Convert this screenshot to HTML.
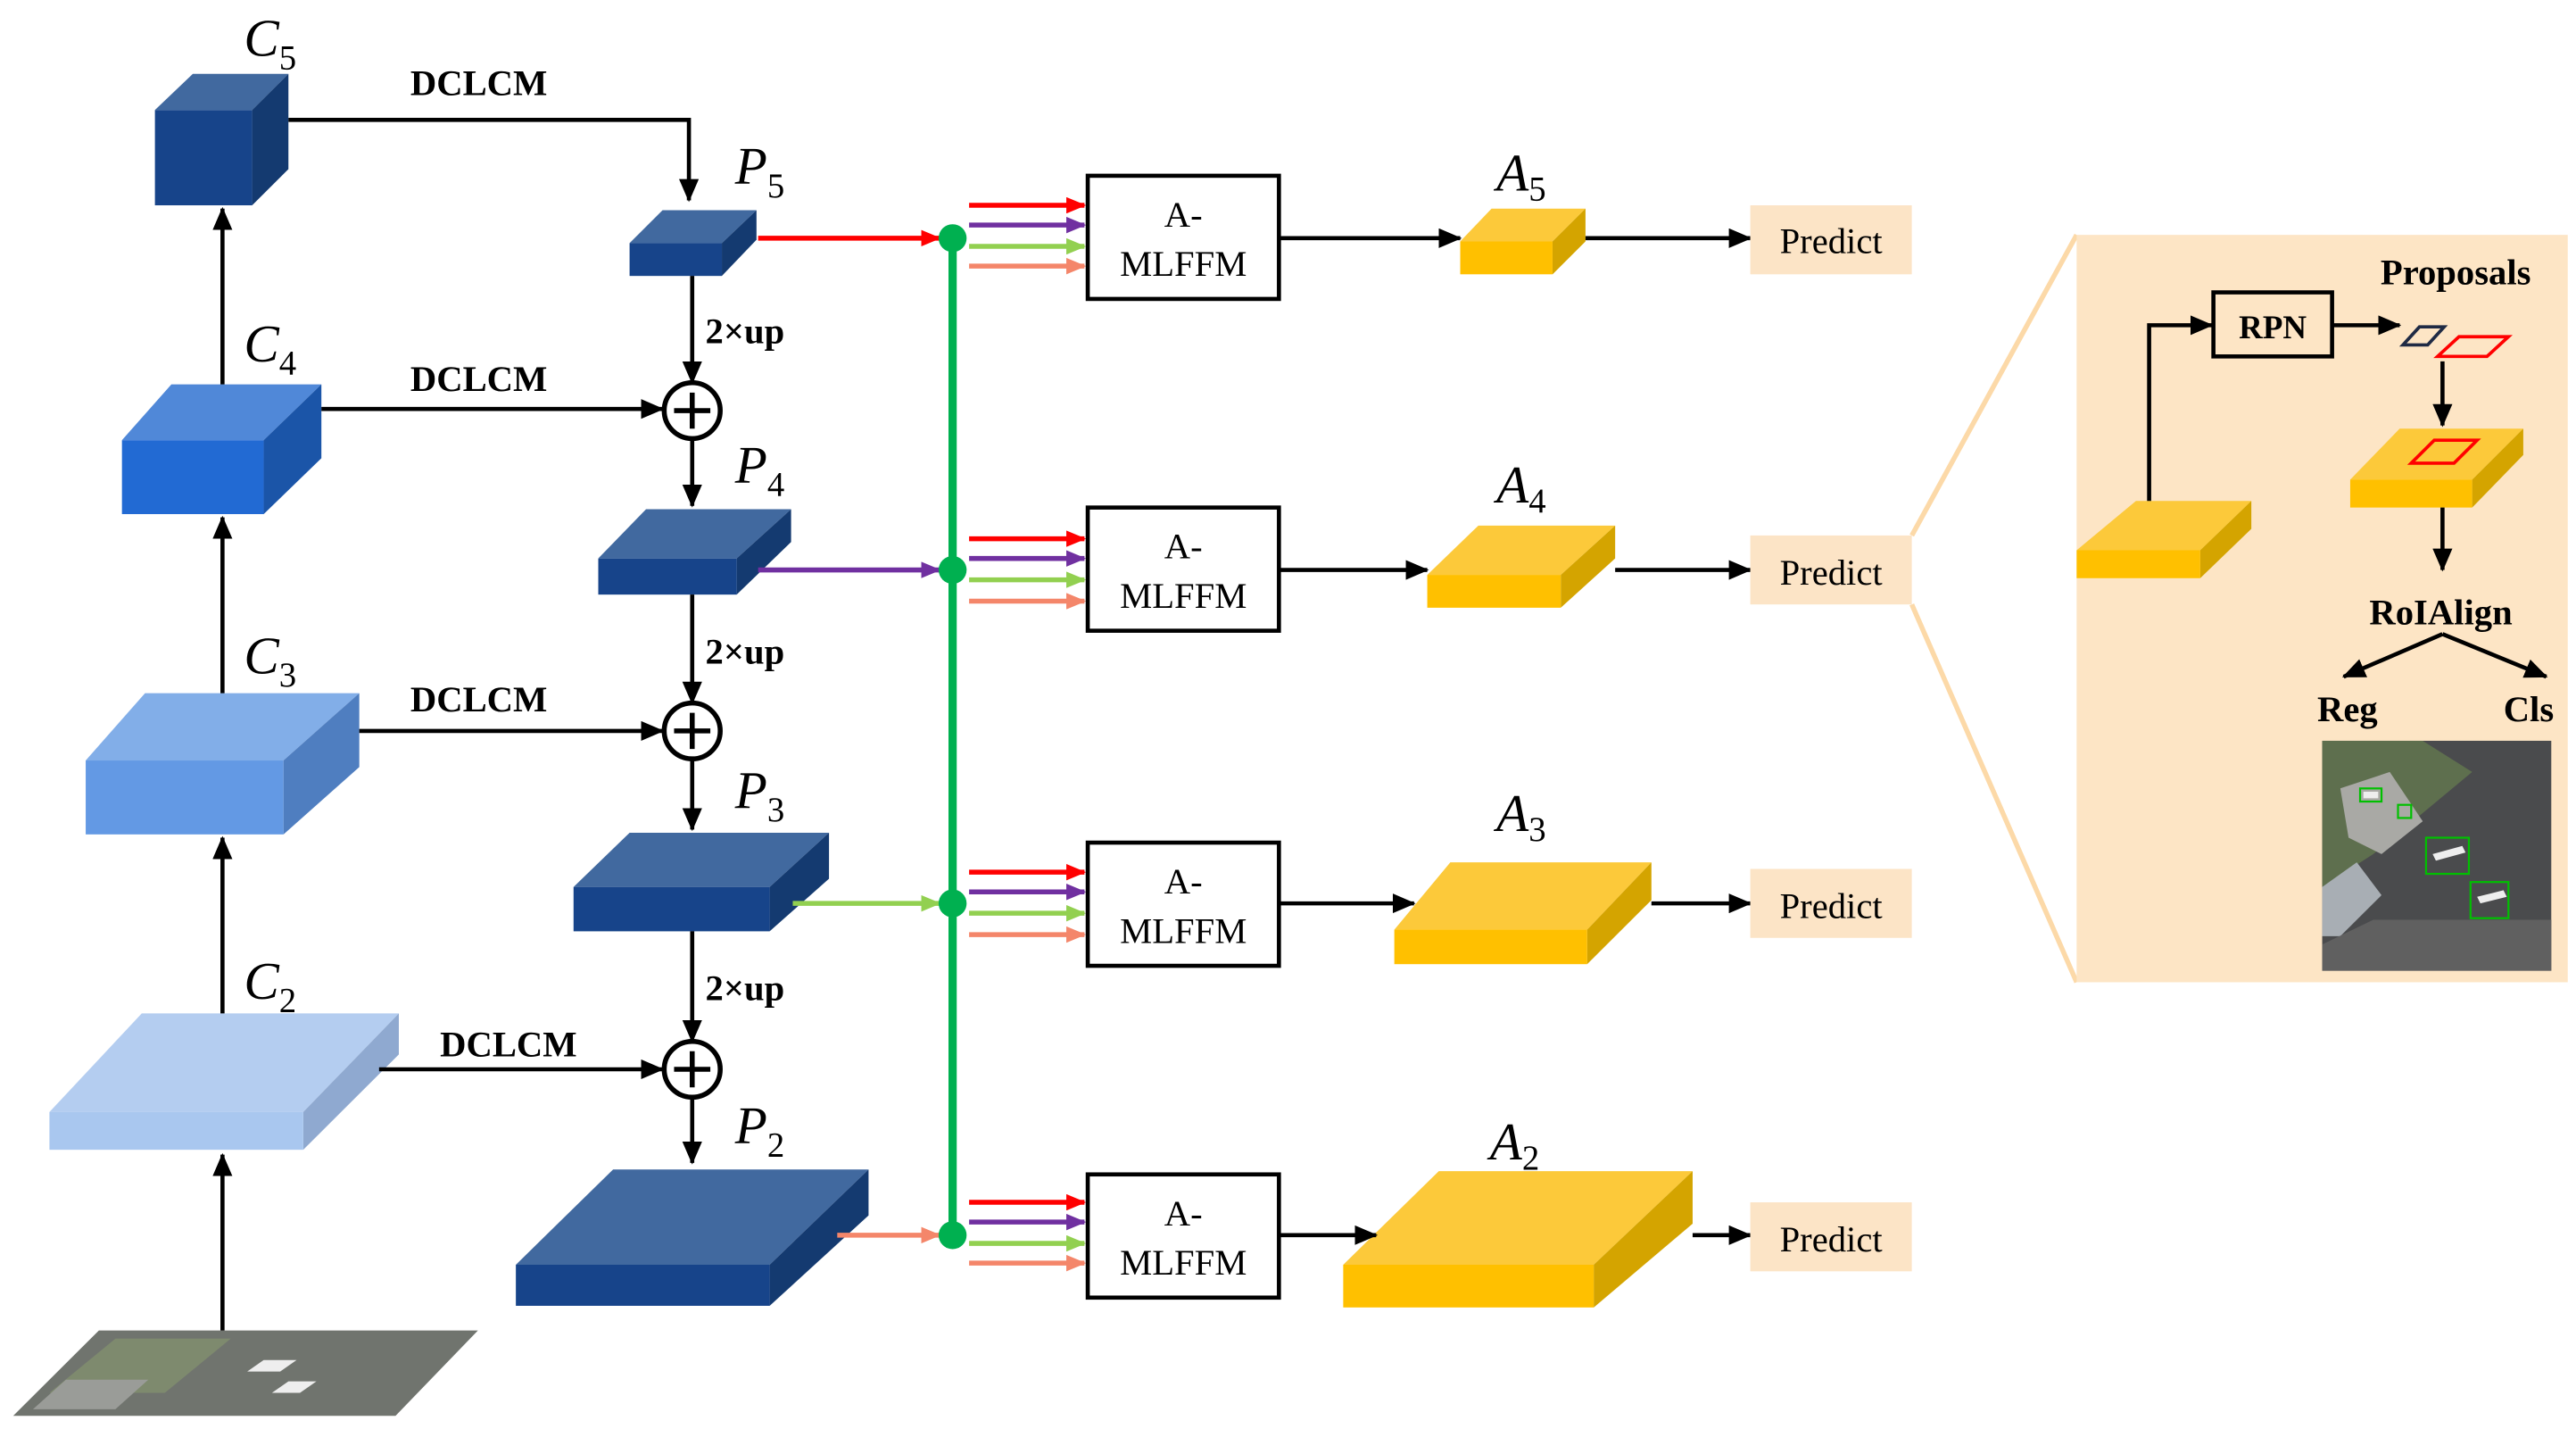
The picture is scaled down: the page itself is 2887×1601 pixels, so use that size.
<!DOCTYPE html>
<html><head><meta charset="utf-8"><style>
html,body{margin:0;padding:0;background:#fff}
svg{display:block}
svg text{font-family:"Liberation Serif","DejaVu Serif",serif}
.b{font-weight:bold;font-size:22px}
.l{font-style:italic;font-size:32px}
.s{font-size:21px;font-style:normal}
.m{font-size:22px}
</style></head><body>
<svg width="2887" height="1601" viewBox="0 0 1563 870" preserveAspectRatio="none" xmlns="http://www.w3.org/2000/svg" font-family="Liberation Serif, DejaVu Serif, serif">
<defs>
<marker id="k" markerUnits="userSpaceOnUse" markerWidth="14" markerHeight="12" refX="13" refY="6" orient="auto"><path d="M0,0L14,6L0,12z" fill="#000"/></marker>
<marker id="r" markerUnits="userSpaceOnUse" markerWidth="12" markerHeight="10" refX="11" refY="5" orient="auto"><path d="M0,0L12,5L0,10z" fill="#ff0000"/></marker>
<marker id="p" markerUnits="userSpaceOnUse" markerWidth="12" markerHeight="10" refX="11" refY="5" orient="auto"><path d="M0,0L12,5L0,10z" fill="#7030a0"/></marker>
<marker id="g" markerUnits="userSpaceOnUse" markerWidth="12" markerHeight="10" refX="11" refY="5" orient="auto"><path d="M0,0L12,5L0,10z" fill="#92d050"/></marker>
<marker id="o" markerUnits="userSpaceOnUse" markerWidth="12" markerHeight="10" refX="11" refY="5" orient="auto"><path d="M0,0L12,5L0,10z" fill="#f4866a"/></marker>
</defs>

<!-- input image -->
<polygon points="8,862 60,810 290,810 240,862" fill="#70746e"/>
<polygon points="30,848 70,815 140,815 100,848" fill="#7e8a6e"/>
<polygon points="20,858 40,840 90,840 70,858" fill="#9a9c98"/>
<polygon points="150,835 160,828 180,828 170,835" fill="#eee"/>
<polygon points="165,848 175,841 192,841 182,848" fill="#eee"/>

<!-- C5 -->
<polygon points="94,67 117,45 175,45 153,67" fill="#41699f"/>
<polygon points="153,67 175,45 175,103 153,125" fill="#143a70"/>
<rect x="94" y="67" width="59" height="58" fill="#17448a"/>
<!-- C4 -->
<polygon points="74,268 104,234 195,234 160,268" fill="#5088d8"/>
<polygon points="160,268 195,234 195,279 160,313" fill="#1b55a8"/>
<rect x="74" y="268" width="86" height="45" fill="#226ad3"/>
<!-- C3 -->
<polygon points="52,463 88,422 218,422 172,463" fill="#82aee8"/>
<polygon points="172,463 218,422 218,467 172,508" fill="#4f7ec0"/>
<rect x="52" y="463" width="120" height="45" fill="#6399e4"/>
<!-- C2 -->
<polygon points="30,677 86,617 242,617 184,677" fill="#b4cdf0"/>
<polygon points="184,677 242,617 242,642 184,700" fill="#8fa9d0"/>
<rect x="30" y="677" width="154" height="23" fill="#a9c7ef"/>

<!-- P boxes -->
<polygon points="382,148 402,128 459,128 438,148" fill="#41699f"/>
<polygon points="438,148 459,128 459,146 438,168" fill="#143a70"/>
<rect x="382" y="148" width="56" height="20" fill="#17448a"/>
<polygon points="363,340 392,310 480,310 447,340" fill="#41699f"/>
<polygon points="447,340 480,310 480,330 447,362" fill="#143a70"/>
<rect x="363" y="340" width="84" height="22" fill="#17448a"/>
<polygon points="348,540 382,507 503,507 467,540" fill="#41699f"/>
<polygon points="467,540 503,507 503,535 467,567" fill="#143a70"/>
<rect x="348" y="540" width="119" height="27" fill="#17448a"/>
<polygon points="313,770 372,712 527,712 467,770" fill="#41699f"/>
<polygon points="467,770 527,712 527,740 467,795" fill="#143a70"/>
<rect x="313" y="770" width="154" height="25" fill="#17448a"/>

<!-- labels -->
<text x="148" y="34" class="l">C<tspan class="s" dy="8">5</tspan></text>
<text x="148" y="220" class="l">C<tspan class="s" dy="8">4</tspan></text>
<text x="148" y="410" class="l">C<tspan class="s" dy="8">3</tspan></text>
<text x="148" y="608" class="l">C<tspan class="s" dy="8">2</tspan></text>
<text x="446" y="112" class="l">P<tspan class="s" dy="8">5</tspan></text>
<text x="446" y="294" class="l">P<tspan class="s" dy="8">4</tspan></text>
<text x="446" y="492" class="l">P<tspan class="s" dy="8">3</tspan></text>
<text x="446" y="696" class="l">P<tspan class="s" dy="8">2</tspan></text>
<text x="249" y="58" class="b">DCLCM</text>
<text x="249" y="238" class="b">DCLCM</text>
<text x="249" y="433" class="b">DCLCM</text>
<text x="267" y="643" class="b">DCLCM</text>
<text x="428" y="209" class="b">2×up</text>
<text x="428" y="404" class="b">2×up</text>
<text x="428" y="609" class="b">2×up</text>

<!-- black connectors -->
<g stroke="#000" stroke-width="2.5" fill="none">
<path d="M175,73H418V122" marker-end="url(#k)"/>
<path d="M135,234V127" marker-end="url(#k)"/>
<path d="M135,422V315" marker-end="url(#k)"/>
<path d="M135,617V510" marker-end="url(#k)"/>
<path d="M135,810V703" marker-end="url(#k)"/>
<path d="M195,249H402" marker-end="url(#k)"/>
<path d="M218,445H402" marker-end="url(#k)"/>
<path d="M230,651H402" marker-end="url(#k)"/>
<path d="M420,168V233" marker-end="url(#k)"/>
<path d="M420,267V308" marker-end="url(#k)"/>
<path d="M420,362V428" marker-end="url(#k)"/>
<path d="M420,462V505" marker-end="url(#k)"/>
<path d="M420,567V634" marker-end="url(#k)"/>
<path d="M420,668V708" marker-end="url(#k)"/>
</g>
<g stroke="#000" stroke-width="3" fill="#fff">
<circle cx="420" cy="250" r="17"/><circle cx="420" cy="445" r="17"/><circle cx="420" cy="651" r="17"/>
</g>
<g stroke="#000" stroke-width="3">
<path d="M409,250H431M420,239V261M409,445H431M420,434V456M409,651H431M420,640V662"/>
</g>

<!-- colored to green bus -->
<path d="M460,145H570" stroke="#ff0000" stroke-width="3" marker-end="url(#r)"/>
<path d="M460,347H570" stroke="#7030a0" stroke-width="3" marker-end="url(#p)"/>
<path d="M481,550H570" stroke="#92d050" stroke-width="3" marker-end="url(#g)"/>
<path d="M508,752H570" stroke="#f4866a" stroke-width="3" marker-end="url(#o)"/>
<path d="M578,145V752" stroke="#00b050" stroke-width="5"/>
<g fill="#00b050"><circle cx="578" cy="145" r="8.5"/><circle cx="578" cy="347" r="8.5"/><circle cx="578" cy="550" r="8.5"/><circle cx="578" cy="752" r="8.5"/></g>

<!-- four arrows per row -->
<g stroke-width="3">
<path d="M588,125H658" stroke="#ff0000" marker-end="url(#r)"/>
<path d="M588,328H658" stroke="#ff0000" marker-end="url(#r)"/>
<path d="M588,531H658" stroke="#ff0000" marker-end="url(#r)"/>
<path d="M588,732H658" stroke="#ff0000" marker-end="url(#r)"/>
<path d="M588,137H658" stroke="#7030a0" marker-end="url(#p)"/>
<path d="M588,340H658" stroke="#7030a0" marker-end="url(#p)"/>
<path d="M588,543H658" stroke="#7030a0" marker-end="url(#p)"/>
<path d="M588,744H658" stroke="#7030a0" marker-end="url(#p)"/>
<path d="M588,150H658" stroke="#92d050" marker-end="url(#g)"/>
<path d="M588,353H658" stroke="#92d050" marker-end="url(#g)"/>
<path d="M588,556H658" stroke="#92d050" marker-end="url(#g)"/>
<path d="M588,757H658" stroke="#92d050" marker-end="url(#g)"/>
<path d="M588,162H658" stroke="#f4866a" marker-end="url(#o)"/>
<path d="M588,366H658" stroke="#f4866a" marker-end="url(#o)"/>
<path d="M588,569H658" stroke="#f4866a" marker-end="url(#o)"/>
<path d="M588,769H658" stroke="#f4866a" marker-end="url(#o)"/>
</g>

<!-- A-MLFFM boxes -->
<g fill="#fff" stroke="#000" stroke-width="2.5">
<rect x="660" y="107" width="116" height="75"/><rect x="660" y="309" width="116" height="75"/>
<rect x="660" y="513" width="116" height="75"/><rect x="660" y="715" width="116" height="75"/>
</g>
<g text-anchor="middle">
<text x="718" y="138" class="m">A-</text><text x="718" y="168" class="m">MLFFM</text>
<text x="718" y="340" class="m">A-</text><text x="718" y="370" class="m">MLFFM</text>
<text x="718" y="544" class="m">A-</text><text x="718" y="574" class="m">MLFFM</text>
<text x="718" y="746" class="m">A-</text><text x="718" y="776" class="m">MLFFM</text>
</g>

<!-- A cubes -->
<polygon points="886,147 905,127 962,127 942,147" fill="#fcc93a"/>
<polygon points="942,147 962,127 962,147 942,167" fill="#d4a400"/>
<rect x="886" y="147" width="56" height="20" fill="#ffc000"/>
<polygon points="866,350 897,320 980,320 947,350" fill="#fcc93a"/>
<polygon points="947,350 980,320 980,340 947,370" fill="#d4a400"/>
<rect x="866" y="350" width="81" height="20" fill="#ffc000"/>
<polygon points="846,566 880,525 1002,525 963,566" fill="#fcc93a"/>
<polygon points="963,566 1002,525 1002,548 963,587" fill="#d4a400"/>
<rect x="846" y="566" width="117" height="21" fill="#ffc000"/>
<polygon points="815,770 873,713 1027,713 967,770" fill="#fcc93a"/>
<polygon points="967,770 1027,713 1027,745 967,796" fill="#d4a400"/>
<rect x="815" y="770" width="152" height="26" fill="#ffc000"/>
<text x="908" y="116" class="l">A<tspan class="s" dy="6">5</tspan></text>
<text x="908" y="306" class="l">A<tspan class="s" dy="6">4</tspan></text>
<text x="908" y="506" class="l">A<tspan class="s" dy="6">3</tspan></text>
<text x="904" y="706" class="l">A<tspan class="s" dy="6">2</tspan></text>

<g stroke="#000" stroke-width="2.5" fill="none">
<path d="M776,145H886" marker-end="url(#k)"/><path d="M962,145H1062" marker-end="url(#k)"/>
<path d="M776,347H866" marker-end="url(#k)"/><path d="M980,347H1062" marker-end="url(#k)"/>
<path d="M776,550H858" marker-end="url(#k)"/><path d="M1002,550H1062" marker-end="url(#k)"/>
<path d="M776,752H835" marker-end="url(#k)"/><path d="M1027,752H1062" marker-end="url(#k)"/>
</g>

<!-- Predict -->
<g fill="#fce4c6">
<rect x="1062" y="125" width="98" height="42"/><rect x="1062" y="326" width="98" height="42"/>
<rect x="1062" y="529" width="98" height="42"/><rect x="1062" y="732" width="98" height="42"/>
</g>
<g text-anchor="middle">
<text x="1111" y="154" class="m">Predict</text><text x="1111" y="356" class="m">Predict</text>
<text x="1111" y="559" class="m">Predict</text><text x="1111" y="762" class="m">Predict</text>
</g>

<!-- right panel -->
<path d="M1160,326L1260,143M1160,368L1260,598" stroke="#fcd9a8" stroke-width="3"/>
<rect x="1260" y="143" width="298" height="455" fill="#fde5c5"/>
<polygon points="1260,335 1296,305 1366,305 1335,335" fill="#fcc93a"/>
<polygon points="1335,335 1366,305 1366,322 1335,352" fill="#d4a400"/>
<rect x="1260" y="335" width="75" height="17" fill="#ffc000"/>
<polygon points="1426,292 1456,261 1531,261 1500,292" fill="#fcc93a"/>
<polygon points="1500,292 1531,261 1531,277 1500,309" fill="#d4a400"/>
<rect x="1426" y="292" width="74" height="17" fill="#ffc000"/>
<polygon points="1463,282 1477,268 1503,268 1489,282" fill="none" stroke="#ff0000" stroke-width="2"/>
<polygon points="1458,210 1468,199 1483,199 1473,210" fill="none" stroke="#1f2a44" stroke-width="2"/>
<polygon points="1479,217 1492,205 1522,205 1509,217" fill="none" stroke="#ff0000" stroke-width="2"/>
<rect x="1343" y="178" width="72" height="39" fill="none" stroke="#000" stroke-width="2.5"/>
<text x="1379" y="206" class="b" text-anchor="middle" style="font-size:20px">RPN</text>
<text x="1490" y="173" class="b" text-anchor="middle">Proposals</text>
<text x="1481" y="380" class="b" text-anchor="middle">RoIAlign</text>
<text x="1406" y="439" class="b">Reg</text>
<text x="1519" y="439" class="b">Cls</text>
<g stroke="#000" stroke-width="2.5" fill="none">
<path d="M1304,305V198H1342" marker-end="url(#k)"/>
<path d="M1415,198H1456" marker-end="url(#k)"/>
<path d="M1482,220V259" marker-end="url(#k)"/>
<path d="M1482,309V347" marker-end="url(#k)"/>
<path d="M1482,386L1422,412" marker-end="url(#k)"/>
<path d="M1482,386L1545,412" marker-end="url(#k)"/>
</g>
<!-- aerial photo -->
<rect x="1409" y="451" width="139" height="140" fill="#4a4b4d"/>
<polygon points="1409,451 1470,451 1500,470 1440,520 1409,540" fill="#5e6f4e"/>
<polygon points="1420,480 1450,470 1470,500 1445,520 1425,510" fill="#a9a9a5"/>
<polygon points="1409,540 1430,525 1445,545 1420,570 1409,570" fill="#a8aeb4"/>
<polygon points="1409,575 1440,560 1548,560 1548,591 1409,591" fill="#606060"/>
<g fill="none" stroke="#00c000" stroke-width="1.2">
<rect x="1432" y="480" width="13" height="8"/><rect x="1455" y="490" width="8" height="8"/>
<rect x="1472" y="510" width="26" height="22"/><rect x="1499" y="537" width="23" height="22"/>
</g>
<g fill="#eee"><path d="M1476,520l18,-5l2,4l-18,5z M1503,546l16,-4l2,4l-16,4z M1434,482h9v4h-9z"/></g>
</svg>
</body></html>
